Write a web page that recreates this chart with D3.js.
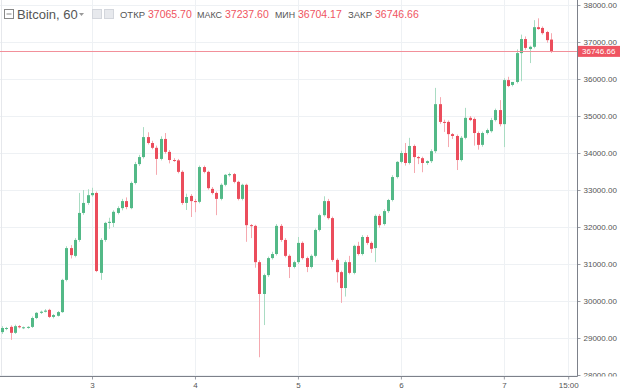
<!DOCTYPE html>
<html>
<head>
<meta charset="utf-8">
<script src="https://cdn.jsdelivr.net/npm/d3@7"></script>
<style>
  html, body { margin: 0; padding: 0; background: #fff; }
  svg { display: block; font-family: "Liberation Sans", Arial, sans-serif; }
</style>
</head>
<body>
<div id="chart"></div>
<script>
// hourly candles, Jan 2 03:00 .. Jan 7 11:00
const FIRST_BAR = new Date(2021, 0, 2, 3, 0);

const opens = [
  29160, 29250, 29300, 29140, 29320, 29270, 29280, 29300, 29540, 29680,
  29710, 29760, 29570, 29600, 29700, 30570, 31430, 31220, 31650, 32380,
  32650, 32860, 32920, 30760, 31650, 32110, 32110, 32380, 32510, 32700,
  32510, 33190, 33700, 33890, 34430, 34270, 34140, 33840, 34380, 34030,
  33810, 33800, 33490, 32650, 32840, 32700, 32680, 33620, 33490, 33030,
  32920, 32760, 33140, 33400, 33430, 33220, 32760, 33140, 32050, 32030,
  31050, 30190, 30700, 31160, 31270, 32030, 31650, 31220, 30920, 31050,
  31570, 31160, 30920, 31220, 31920, 32320, 32700, 32240, 31110, 30780,
  30350, 31050, 30760, 31490, 31270, 31730, 31570, 31430, 32300, 32080,
  32430, 32730, 33350, 33760, 34000, 33730, 34190, 33890, 33860, 33730,
  33780, 34050, 35320, 34840, 34840, 34510, 34460, 33810, 34410, 34950,
  34920, 34540, 34220, 34540, 34590, 34890, 35160, 34780, 35970, 35840,
  35920, 36700, 37080, 36810, 36870, 37400, 37380, 37270, 37065.70
];

const highs = [
  29320, 29300, 29340, 29360, 29350, 29310, 29320, 29580, 29700, 29740,
  29780, 29790, 29650, 29730, 30600, 31480, 31510, 31700, 32920, 33000,
  33020, 33060, 32960, 31700, 32140, 32250, 32450, 32560, 32760, 32800,
  33230, 33760, 33950, 34700, 34560, 34330, 34200, 34450, 34540, 34080,
  33860, 33840, 33530, 32900, 32890, 32760, 33660, 33660, 33520, 33080,
  32960, 33180, 33430, 33470, 33460, 33250, 33170, 33170, 32080, 32060,
  31100, 30740, 31200, 31330, 32080, 32080, 31700, 31260, 31090, 31730,
  31610, 31200, 31260, 31960, 32360, 32830, 32760, 32280, 31150, 30820,
  31100, 31220, 31520, 31600, 31780, 31780, 31610, 32340, 32350, 32480,
  32760, 33400, 33780, 34060, 34270, 34410, 34230, 33920, 33900, 33800,
  34100, 35760, 35510, 34900, 34880, 34540, 34500, 34460, 35220, 35000,
  34960, 34580, 34580, 34660, 34950, 35200, 35430, 36020, 36060, 35920,
  36800, 37200, 37150, 36900, 37590, 37640, 37420, 37300, 37237.60
];

const lows = [
  29110, 29210, 28950, 29110, 29260, 29240, 29250, 29270, 29510, 29650,
  29690, 29540, 29530, 29580, 29680, 30530, 31150, 31180, 31600, 32330,
  32600, 32820, 30780, 30570, 31600, 31950, 32000, 32340, 32450, 32480,
  32480, 33150, 33650, 33850, 34230, 34100, 33410, 33800, 33980, 33720,
  33760, 33450, 32600, 32460, 32270, 32400, 32640, 33450, 33010, 32880,
  32320, 32720, 33100, 33360, 33180, 32720, 32720, 31600, 31700, 30900,
  28480, 29350, 30650, 31120, 31230, 31600, 31180, 30620, 30880, 31000,
  31120, 30780, 30880, 31180, 31880, 32280, 32200, 31060, 30500, 29950,
  30120, 30720, 30720, 31230, 31230, 31520, 31300, 31050, 31980, 32040,
  32380, 32690, 33310, 33720, 33660, 33690, 33460, 33700, 33480, 33680,
  33730, 34000, 34790, 34570, 34160, 34380, 33540, 33770, 34370, 34860,
  34200, 34090, 34170, 34500, 34550, 34850, 34720, 34160, 35780, 35800,
  35880, 35940, 36790, 36430, 36830, 37330, 37200, 36980, 36704.17
];

const closes = [
  29270, 29270, 29140, 29320, 29290, 29290, 29300, 29540, 29680, 29710,
  29740, 29570, 29620, 29700, 30570, 31430, 31240, 31650, 32380, 32650,
  32860, 32920, 30810, 31650, 32110, 32140, 32410, 32510, 32700, 32540,
  33190, 33700, 33890, 34430, 34270, 34140, 33840, 34380, 34030, 33810,
  33800, 33490, 32650, 32810, 32700, 32680, 33620, 33490, 33050, 32920,
  32760, 33140, 33410, 33430, 33220, 32760, 33140, 32050, 32030, 31050,
  30190, 30700, 31160, 31270, 32030, 31650, 31220, 30920, 31050, 31570,
  31160, 30920, 31220, 31920, 32320, 32700, 32240, 31110, 30780, 30350,
  31050, 30760, 31490, 31270, 31730, 31570, 31410, 32300, 32050, 32430,
  32730, 33350, 33760, 34000, 33730, 34190, 33890, 33860, 33730, 33780,
  34050, 35320, 34840, 34820, 34510, 34460, 33810, 34410, 34950, 34890,
  34540, 34220, 34540, 34620, 34890, 35160, 34780, 35970, 35810, 35920,
  36700, 37080, 36840, 36870, 37400, 37350, 37240, 37050, 36746.66
];

const priceTicks = [28000, 29000, 30000, 31000, 32000, 33000, 34000, 35000, 36000, 37000, 38000];
const timeTicks = [
  new Date(2021, 0, 3), new Date(2021, 0, 4), new Date(2021, 0, 5),
  new Date(2021, 0, 6), new Date(2021, 0, 7), new Date(2021, 0, 7, 15)
];
const timeTickLabels = ["3", "4", "5", "6", "7", "15:00"];

const symbolTitle = "Bitcoin, 60";
const ohlcLabels = ["ОТКР", "МАКС", "МИН", "ЗАКР"];
const ohlcValues = ["37065.70", "37237.60", "36704.17", "36746.66"];
const lastPrice = 36746.66;

const UP = "#53b987", DOWN = "#eb4d5c";
const UP_WICK = "#a9dcc3", DOWN_WICK = "#f5a9b0";

const candles = opens.map((o, i) => ({
  t: d3.timeHour.offset(FIRST_BAR, i),
  o, h: highs[i], l: lows[i], c: closes[i]
}));

const width = 620, height = 391;
const plotRight = 577, plotBottom = 376.5;

const svg = d3.select("#chart").append("svg")
  .attr("width", width)
  .attr("height", height);

const x = d3.scaleTime()
  .domain([new Date(2021, 0, 2, 2, 33), new Date(2021, 0, 7, 17, 3)])
  .range([0, plotRight]);

const y = d3.scaleLinear()
  .domain([28000, 38000])
  .range([375, 5]);

// grid
svg.append("g")
  .selectAll("line")
  .data(priceTicks)
  .join("line")
  .attr("x1", 0).attr("x2", plotRight)
  .attr("y1", d => Math.round(y(d)) + 0.5)
  .attr("y2", d => Math.round(y(d)) + 0.5)
  .attr("stroke", "#eef1f4");

svg.append("g")
  .selectAll("line")
  .data(timeTicks)
  .join("line")
  .attr("x1", d => Math.round(x(d)) + 0.5)
  .attr("x2", d => Math.round(x(d)) + 0.5)
  .attr("y1", 0).attr("y2", plotBottom)
  .attr("stroke", "#eef1f4");

svg.append("line")
  .attr("x1", 1.5).attr("x2", 1.5)
  .attr("y1", 0).attr("y2", plotBottom)
  .attr("stroke", "#e6e8ec");

// candles
const plot = svg.append("g");

plot.selectAll("line.wick")
  .data(candles)
  .join("line")
  .attr("class", "wick")
  .attr("x1", d => Math.round(x(d.t)) + 0.5)
  .attr("x2", d => Math.round(x(d.t)) + 0.5)
  .attr("y1", d => y(d.h))
  .attr("y2", d => y(d.l))
  .attr("stroke", d => d.c >= d.o ? UP_WICK : DOWN_WICK);

plot.selectAll("rect.body")
  .data(candles)
  .join("rect")
  .attr("class", "body")
  .attr("x", d => Math.round(x(d.t)) - 1)
  .attr("width", 3)
  .attr("y", d => y(Math.max(d.o, d.c)))
  .attr("height", d => Math.max(1, Math.abs(y(d.o) - y(d.c))))
  .attr("fill", d => d.c >= d.o ? UP : DOWN);

// last price line
svg.append("line")
  .attr("x1", 0).attr("x2", plotRight)
  .attr("y1", Math.round(y(lastPrice)) + 0.5)
  .attr("y2", Math.round(y(lastPrice)) + 0.5)
  .attr("stroke", "#f2909a");

// price axis
svg.append("defs").append("clipPath")
  .attr("id", "axis-clip")
  .append("rect")
  .attr("x", plotRight).attr("y", 0)
  .attr("width", width - plotRight).attr("height", plotBottom);

const yAxis = svg.append("g")
  .attr("clip-path", "url(#axis-clip)")
  .append("g")
  .attr("transform", `translate(${plotRight + 0.5},0)`)
  .call(d3.axisRight(y).tickValues(priceTicks).tickSize(3).tickPadding(3)
    .tickFormat(d => d.toFixed(2)));
yAxis.select(".domain").remove();
yAxis.selectAll(".tick line").attr("stroke", "#9a9ea6");
yAxis.selectAll("text")
  .attr("fill", "#555")
  .attr("font-size", "8px")
  .attr("font-family", "Liberation Sans, Arial, sans-serif");

svg.append("line")
  .attr("x1", plotRight + 0.5).attr("x2", plotRight + 0.5)
  .attr("y1", 0).attr("y2", plotBottom)
  .attr("stroke", "#7d818a");

// last price tag
const tagY = y(lastPrice);
svg.append("rect")
  .attr("x", plotRight + 1).attr("y", tagY - 5.5)
  .attr("width", width - plotRight - 1).attr("height", 11)
  .attr("fill", "#ef5461");
svg.append("text")
  .attr("x", plotRight + 5).attr("y", tagY + 3)
  .attr("fill", "#fff")
  .attr("font-size", "8px")
  .text(lastPrice.toFixed(2));

// time axis
const xAxis = svg.append("g")
  .attr("transform", `translate(0,${plotBottom})`)
  .call(d3.axisBottom(x).tickValues(timeTicks).tickSize(3).tickPadding(3)
    .tickFormat((d, i) => timeTickLabels[i]));
xAxis.select(".domain").remove();
xAxis.selectAll(".tick line").attr("stroke", "#9a9ea6");
xAxis.selectAll("text")
  .attr("fill", "#555")
  .attr("font-size", "8px")
  .attr("font-family", "Liberation Sans, Arial, sans-serif");

svg.append("line")
  .attr("x1", 0).attr("x2", plotRight + 0.5)
  .attr("y1", plotBottom).attr("y2", plotBottom)
  .attr("stroke", "#7d818a");

// header
const head = svg.append("g");
head.append("rect")
  .attr("x", 4.5).attr("y", 9.5).attr("width", 9).attr("height", 9)
  .attr("fill", "none").attr("stroke", "#888");
head.append("line")
  .attr("x1", 6.5).attr("x2", 11.5).attr("y1", 14).attr("y2", 14)
  .attr("stroke", "#888");
head.append("text")
  .attr("x", 17).attr("y", 18.5)
  .attr("fill", "#555")
  .attr("font-size", "13px")
  .text(symbolTitle);
head.append("path")
  .attr("d", "M79,13 L84,13 L81.5,16 Z")
  .attr("fill", "#999");
[92, 104].forEach(sx => {
  head.append("rect")
    .attr("x", sx + 0.5).attr("y", 9.5).attr("width", 9).attr("height", 9)
    .attr("fill", "#e7e9ed").attr("stroke", "#d3d6dc");
});

const labelX = [120, 197, 275, 348];
const valueX = [148, 225, 298, 375];
ohlcLabels.forEach((lab, i) => {
  head.append("text")
    .attr("x", labelX[i]).attr("y", 18)
    .attr("fill", "#555")
    .attr("font-size", "9px")
    .attr("textLength", valueX[i] - labelX[i] - 3)
    .attr("lengthAdjust", "spacingAndGlyphs")
    .text(lab);
  head.append("text")
    .attr("x", valueX[i]).attr("y", 18)
    .attr("fill", "#ef5461")
    .attr("font-size", "10.5px")
    .text(ohlcValues[i]);
});
</script>
</body>
</html>
